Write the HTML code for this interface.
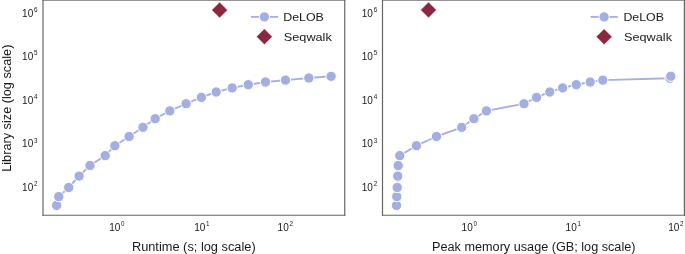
<!DOCTYPE html>
<html><head><meta charset="utf-8"><title>chart</title>
<style>
html,body{margin:0;padding:0;background:#fff;}
body{width:685px;height:254px;overflow:hidden;}
svg{display:block;font-family:"Liberation Sans",sans-serif;}
svg{will-change:transform;}
</style></head><body>
<svg width="685" height="254" viewBox="0 0 685 254">
<rect width="685" height="254" fill="#fff"/>
<rect x="42.40" y="0" width="302.95" height="1" fill="#969696"/>
<line x1="43.00" y1="0" x2="43.00" y2="215.82" stroke="#666666" stroke-width="1.20"/>
<line x1="344.75" y1="0" x2="344.75" y2="215.82" stroke="#666666" stroke-width="1.20"/>
<line x1="42.40" y1="215.25" x2="345.35" y2="215.25" stroke="#666666" stroke-width="1.15"/>
<rect x="381.90" y="0" width="303.10" height="1" fill="#969696"/>
<line x1="382.50" y1="0" x2="382.50" y2="215.82" stroke="#666666" stroke-width="1.20"/>
<line x1="684.40" y1="0" x2="684.40" y2="215.82" stroke="#666666" stroke-width="1.20"/>
<line x1="381.90" y1="215.25" x2="685.00" y2="215.25" stroke="#666666" stroke-width="1.15"/>
<text x="22.1" y="16.5" font-size="10" fill="#1a1a1a">10</text><text x="34.0" y="11.8" font-size="6.3" fill="#1a1a1a">6</text>
<text x="361.8" y="16.5" font-size="10" fill="#1a1a1a">10</text><text x="373.7" y="11.8" font-size="6.3" fill="#1a1a1a">6</text>
<text x="22.1" y="60.1" font-size="10" fill="#1a1a1a">10</text><text x="34.0" y="55.4" font-size="6.3" fill="#1a1a1a">5</text>
<text x="361.8" y="60.1" font-size="10" fill="#1a1a1a">10</text><text x="373.7" y="55.4" font-size="6.3" fill="#1a1a1a">5</text>
<text x="22.1" y="103.7" font-size="10" fill="#1a1a1a">10</text><text x="34.0" y="99.0" font-size="6.3" fill="#1a1a1a">4</text>
<text x="361.8" y="103.7" font-size="10" fill="#1a1a1a">10</text><text x="373.7" y="99.0" font-size="6.3" fill="#1a1a1a">4</text>
<text x="22.1" y="147.3" font-size="10" fill="#1a1a1a">10</text><text x="34.0" y="142.6" font-size="6.3" fill="#1a1a1a">3</text>
<text x="361.8" y="147.3" font-size="10" fill="#1a1a1a">10</text><text x="373.7" y="142.6" font-size="6.3" fill="#1a1a1a">3</text>
<text x="22.1" y="190.9" font-size="10" fill="#1a1a1a">10</text><text x="34.0" y="186.2" font-size="6.3" fill="#1a1a1a">2</text>
<text x="361.8" y="190.9" font-size="10" fill="#1a1a1a">10</text><text x="373.7" y="186.2" font-size="6.3" fill="#1a1a1a">2</text>
<text x="109.2" y="231.3" font-size="10" fill="#1a1a1a">10</text><text x="121.1" y="226.3" font-size="6.3" fill="#1a1a1a">0</text>
<text x="194.2" y="231.3" font-size="10" fill="#1a1a1a">10</text><text x="206.1" y="226.3" font-size="6.3" fill="#1a1a1a">1</text>
<text x="277.6" y="231.3" font-size="10" fill="#1a1a1a">10</text><text x="289.5" y="226.3" font-size="6.3" fill="#1a1a1a">2</text>
<text x="461.6" y="231.3" font-size="10" fill="#1a1a1a">10</text><text x="473.5" y="226.3" font-size="6.3" fill="#1a1a1a">0</text>
<text x="565.6" y="231.3" font-size="10" fill="#1a1a1a">10</text><text x="577.5" y="226.3" font-size="6.3" fill="#1a1a1a">1</text>
<text x="668.2" y="231.3" font-size="10" fill="#1a1a1a">10</text><text x="680.1" y="226.3" font-size="6.3" fill="#1a1a1a">2</text>
<text x="131.9" y="250.5" font-size="12" fill="#1a1a1a" textLength="123.8" lengthAdjust="spacingAndGlyphs">Runtime (s; log scale)</text>
<text x="432.1" y="250.5" font-size="12" fill="#1a1a1a" textLength="203.4" lengthAdjust="spacingAndGlyphs">Peak memory usage (GB; log scale)</text>
<text transform="translate(10.6,171.8) rotate(-90)" font-size="12" fill="#1a1a1a" textLength="127.2" lengthAdjust="spacingAndGlyphs">Library size (log scale)</text>
<polyline fill="none" stroke="#a6b1e2" stroke-width="1.9" stroke-linejoin="round" points="56.6,205.4 58.8,196.6 68.7,187.5 79.1,176.1 90.0,165.5 105.2,155.6 114.9,145.7 129.1,136.5 143.0,127.3 155.2,118.7 169.8,110.9 186.1,103.7 201.4,97.4 216.2,92.0 232.2,87.9 248.3,84.7 265.5,82.0 285.5,80.1 308.8,78.0 331.1,76.3"/>
<circle cx="56.6" cy="205.4" r="5.15" fill="#a4afe1" stroke="#fff" stroke-width="1.00"/>
<circle cx="58.8" cy="196.6" r="5.15" fill="#a4afe1" stroke="#fff" stroke-width="1.00"/>
<circle cx="68.7" cy="187.5" r="5.15" fill="#a4afe1" stroke="#fff" stroke-width="1.00"/>
<circle cx="79.1" cy="176.1" r="5.15" fill="#a4afe1" stroke="#fff" stroke-width="1.00"/>
<circle cx="90.0" cy="165.5" r="5.15" fill="#a4afe1" stroke="#fff" stroke-width="1.00"/>
<circle cx="105.2" cy="155.6" r="5.15" fill="#a4afe1" stroke="#fff" stroke-width="1.00"/>
<circle cx="114.9" cy="145.7" r="5.15" fill="#a4afe1" stroke="#fff" stroke-width="1.00"/>
<circle cx="129.1" cy="136.5" r="5.15" fill="#a4afe1" stroke="#fff" stroke-width="1.00"/>
<circle cx="143.0" cy="127.3" r="5.15" fill="#a4afe1" stroke="#fff" stroke-width="1.00"/>
<circle cx="155.2" cy="118.7" r="5.15" fill="#a4afe1" stroke="#fff" stroke-width="1.00"/>
<circle cx="169.8" cy="110.9" r="5.15" fill="#a4afe1" stroke="#fff" stroke-width="1.00"/>
<circle cx="186.1" cy="103.7" r="5.15" fill="#a4afe1" stroke="#fff" stroke-width="1.00"/>
<circle cx="201.4" cy="97.4" r="5.15" fill="#a4afe1" stroke="#fff" stroke-width="1.00"/>
<circle cx="216.2" cy="92.0" r="5.15" fill="#a4afe1" stroke="#fff" stroke-width="1.00"/>
<circle cx="232.2" cy="87.9" r="5.15" fill="#a4afe1" stroke="#fff" stroke-width="1.00"/>
<circle cx="248.3" cy="84.7" r="5.15" fill="#a4afe1" stroke="#fff" stroke-width="1.00"/>
<circle cx="265.5" cy="82.0" r="5.15" fill="#a4afe1" stroke="#fff" stroke-width="1.00"/>
<circle cx="285.5" cy="80.1" r="5.15" fill="#a4afe1" stroke="#fff" stroke-width="1.00"/>
<circle cx="308.8" cy="78.0" r="5.15" fill="#a4afe1" stroke="#fff" stroke-width="1.00"/>
<circle cx="331.1" cy="76.3" r="5.15" fill="#a4afe1" stroke="#fff" stroke-width="1.00"/>
<polyline fill="none" stroke="#a6b1e2" stroke-width="1.9" stroke-linejoin="round" points="396.5,205.4 396.8,196.6 397.2,187.5 397.7,176.1 398.2,165.5 399.8,155.6 416.4,145.7 436.5,136.5 461.7,127.3 473.9,118.7 486.4,110.9 524.0,103.7 536.6,97.4 549.8,92.0 562.6,87.9 576.3,84.7 590.2,82.0 602.8,80.1 669.9,78.2 670.8,76.2"/>
<circle cx="396.5" cy="205.4" r="5.15" fill="#a4afe1" stroke="#fff" stroke-width="1.00"/>
<circle cx="396.8" cy="196.6" r="5.15" fill="#a4afe1" stroke="#fff" stroke-width="1.00"/>
<circle cx="397.2" cy="187.5" r="5.15" fill="#a4afe1" stroke="#fff" stroke-width="1.00"/>
<circle cx="397.7" cy="176.1" r="5.15" fill="#a4afe1" stroke="#fff" stroke-width="1.00"/>
<circle cx="398.2" cy="165.5" r="5.15" fill="#a4afe1" stroke="#fff" stroke-width="1.00"/>
<circle cx="399.8" cy="155.6" r="5.15" fill="#a4afe1" stroke="#fff" stroke-width="1.00"/>
<circle cx="416.4" cy="145.7" r="5.15" fill="#a4afe1" stroke="#fff" stroke-width="1.00"/>
<circle cx="436.5" cy="136.5" r="5.15" fill="#a4afe1" stroke="#fff" stroke-width="1.00"/>
<circle cx="461.7" cy="127.3" r="5.15" fill="#a4afe1" stroke="#fff" stroke-width="1.00"/>
<circle cx="473.9" cy="118.7" r="5.15" fill="#a4afe1" stroke="#fff" stroke-width="1.00"/>
<circle cx="486.4" cy="110.9" r="5.15" fill="#a4afe1" stroke="#fff" stroke-width="1.00"/>
<circle cx="524.0" cy="103.7" r="5.15" fill="#a4afe1" stroke="#fff" stroke-width="1.00"/>
<circle cx="536.6" cy="97.4" r="5.15" fill="#a4afe1" stroke="#fff" stroke-width="1.00"/>
<circle cx="549.8" cy="92.0" r="5.15" fill="#a4afe1" stroke="#fff" stroke-width="1.00"/>
<circle cx="562.6" cy="87.9" r="5.15" fill="#a4afe1" stroke="#fff" stroke-width="1.00"/>
<circle cx="576.3" cy="84.7" r="5.15" fill="#a4afe1" stroke="#fff" stroke-width="1.00"/>
<circle cx="590.2" cy="82.0" r="5.15" fill="#a4afe1" stroke="#fff" stroke-width="1.00"/>
<circle cx="602.8" cy="80.1" r="5.15" fill="#a4afe1" stroke="#fff" stroke-width="1.00"/>
<circle cx="669.9" cy="78.2" r="5.15" fill="#a4afe1" stroke="#fff" stroke-width="1.00"/>
<circle cx="670.8" cy="76.2" r="5.15" fill="#a4afe1" stroke="#fff" stroke-width="1.00"/>
<polygon points="219.6,2.1 227.6,10.1 219.6,18.1 211.6,10.1" fill="#8b2740" stroke="#fff" stroke-width="0.6"/>
<polygon points="428.5,1.9 436.5,9.9 428.5,17.9 420.5,9.9" fill="#8b2740" stroke="#fff" stroke-width="0.6"/>
<line x1="250.9" y1="16.9" x2="278.1" y2="16.9" stroke="#a6b1e2" stroke-width="1.9"/>
<circle cx="264.4" cy="16.9" r="5.15" fill="#a4afe1" stroke="#fff" stroke-width="1.00"/>
<polygon points="264.4,28.7 272.4,36.7 264.4,44.7 256.4,36.7" fill="#8b2740" stroke="#fff" stroke-width="0.6"/>
<text x="283.2" y="20.7" font-size="11.3" fill="#1a1a1a" textLength="40.6" lengthAdjust="spacingAndGlyphs">DeLOB</text>
<text x="283.8" y="40.5" font-size="11.3" fill="#1a1a1a" textLength="48.0" lengthAdjust="spacingAndGlyphs">Seqwalk</text>
<line x1="590.6" y1="16.9" x2="617.8" y2="16.9" stroke="#a6b1e2" stroke-width="1.9"/>
<circle cx="604.1" cy="16.9" r="5.15" fill="#a4afe1" stroke="#fff" stroke-width="1.00"/>
<polygon points="604.1,28.7 612.1,36.7 604.1,44.7 596.1,36.7" fill="#8b2740" stroke="#fff" stroke-width="0.6"/>
<text x="623.4" y="20.7" font-size="11.3" fill="#1a1a1a" textLength="40.6" lengthAdjust="spacingAndGlyphs">DeLOB</text>
<text x="624.0" y="40.5" font-size="11.3" fill="#1a1a1a" textLength="48.0" lengthAdjust="spacingAndGlyphs">Seqwalk</text>
</svg>
</body></html>
